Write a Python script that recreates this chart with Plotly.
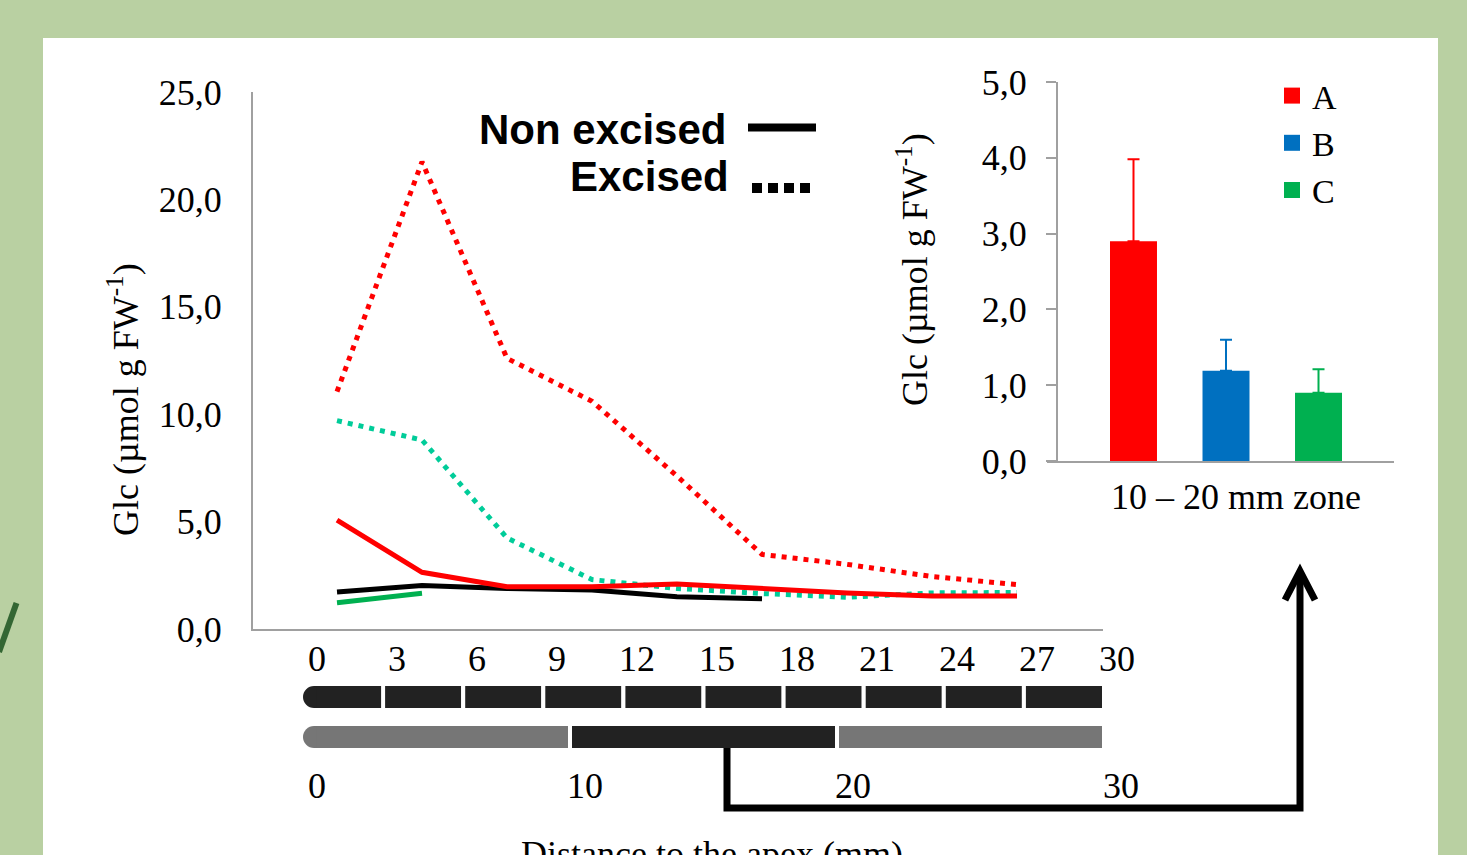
import plotly.graph_objects as go

W, H = 1467, 855


def fx(p):
    return p / W


def fy(p):
    return 1 - p / H


# ---------------- data ----------------
segment_mid_mm = [1.5, 4.5, 7.5, 10.5, 13.5, 16.5, 19.5, 22.5, 25.5]
a_non_excised = [5.07, 2.64, 1.97, 1.97, 2.09, 1.86, 1.68, 1.54, 1.54]
b_non_excised = [1.72, 2.03, 1.89, 1.82, 1.50, 1.41]
c_non_excised = [1.22, 1.66]
a_excised = [11.05, 21.75, 12.6, 10.6, 7.12, 3.47, 3.01, 2.44, 2.07]
b_excised = [9.70, 8.80, 4.24, 2.30, 1.89, 1.65, 1.48, 1.68, 1.70]

zone_labels = ["A", "B", "C"]
zone_means = [2.90, 1.19, 0.90]
zone_err = [1.08, 0.41, 0.31]
zone_colors = ["#ff0000", "#0070c0", "#00b050"]

main_y_ticks = [0, 5, 10, 15, 20, 25]
inset_y_ticks = [0, 1, 2, 3, 4, 5]
dist_ticks = [0, 3, 6, 9, 12, 15, 18, 21, 24, 27, 30]
zone_ticks = [0, 10, 20, 30]

seg_starts = [0, 3, 6, 9, 12, 15, 18, 21, 24, 27]
SEG_LEN = 3
zone_starts = [0, 10, 20]
ZONE_LEN = 10
zone_fill = ["#767676", "#222222", "#767676"]
SEG_BLACK = "#222222"

SERIF = "Liberation Serif"
SANS = "Liberation Sans"
BG_GREEN = "#b9d0a2"
CAP_MM = 1.0      # length of the rounded apex cap (style)
CAP_OVERLAP = 0.5

fig = go.Figure()


def add_line(vals, color, dash):
    fig.add_trace(go.Scatter(
        x=segment_mid_mm[:len(vals)], y=vals, mode="lines",
        line=dict(color=color, width=5, dash=dash),
        showlegend=False, hoverinfo="skip", xaxis="x", yaxis="y"))


add_line(a_excised, "#ff0000", "5px,6px")
add_line(b_excised, "#00cc99", "5px,6px")
add_line(b_non_excised, "#000000", "solid")
add_line(c_non_excised, "#00b050", "solid")
add_line(a_non_excised, "#ff0000", "solid")

# ---------------- inset bars ----------------
for lab, m, e, c in zip(zone_labels, zone_means, zone_err, zone_colors):
    fig.add_trace(go.Bar(
        x=[lab], y=[m], width=0.508, marker=dict(color=c, line=dict(width=0)),
        error_y=dict(type="data", array=[e], arrayminus=[0], symmetric=False,
                     color=c, thickness=2, width=6),
        showlegend=False, hoverinfo="skip", xaxis="x2", yaxis="y2"))
    fig.add_trace(go.Scatter(
        x=[None], y=[None], mode="markers", name=lab,
        marker=dict(symbol="square", size=16, color=c),
        showlegend=True, xaxis="x2", yaxis="y2"))

# ---------------- root segment bars ----------------
WHITE_LINE = dict(color="white", width=4)
NO_LINE = dict(width=0)


def add_first_piece(row, start, length, color):
    # rounded apex cap
    fig.add_trace(go.Bar(
        y=[row], x=[-CAP_MM], base=[start + CAP_MM], orientation="h", width=0.55,
        marker=dict(color=color, line=NO_LINE, cornerradius=11),
        showlegend=False, hoverinfo="skip", xaxis="x5", yaxis="y5"))
    # square remainder of first piece
    fig.add_trace(go.Bar(
        y=[row], x=[length - CAP_OVERLAP], base=[start + CAP_OVERLAP], orientation="h",
        width=0.55, marker=dict(color=color, line=NO_LINE),
        showlegend=False, hoverinfo="skip", xaxis="x5", yaxis="y5"))


add_first_piece(1, seg_starts[0], SEG_LEN, SEG_BLACK)
add_first_piece(0, zone_starts[0], ZONE_LEN, zone_fill[0])

fig.add_trace(go.Bar(
    y=[1] * (len(seg_starts) - 1), x=[SEG_LEN] * (len(seg_starts) - 1), base=seg_starts[1:],
    orientation="h", width=0.65,
    marker=dict(color=SEG_BLACK, line=WHITE_LINE),
    showlegend=False, hoverinfo="skip", xaxis="x5", yaxis="y5"))
fig.add_trace(go.Bar(
    y=[0] * (len(zone_starts) - 1), x=[ZONE_LEN] * (len(zone_starts) - 1), base=zone_starts[1:],
    orientation="h", width=0.65,
    marker=dict(color=zone_fill[1:], line=WHITE_LINE),
    showlegend=False, hoverinfo="skip", xaxis="x5", yaxis="y5"))

# dummy traces so the label axes are drawn
fig.add_trace(go.Scatter(x=[None], y=[None], xaxis="x3", yaxis="y5", showlegend=False))
fig.add_trace(go.Scatter(x=[None], y=[None], xaxis="x4", yaxis="y5", showlegend=False))

AX_GRAY = "#a0a0a0"
tick_font = dict(family=SERIF, size=36, color="black")

fig.update_layout(
    width=W, height=H, autosize=False,
    margin=dict(l=0, r=0, t=0, b=0, pad=0, autoexpand=False),
    paper_bgcolor=BG_GREEN, plot_bgcolor="rgba(0,0,0,0)",
    separators=",.",
    barmode="overlay",
    showlegend=True,
    legend=dict(x=fx(1272), y=fy(67), xanchor="left", yanchor="top",
                font=dict(family=SERIF, size=34, color="black"),
                bgcolor="rgba(0,0,0,0)", itemsizing="trace", tracegroupgap=0),
    # main chart
    xaxis=dict(domain=[fx(253), fx(1103)], range=[-1.465, 28.535], anchor="y",
               showline=True, linecolor=AX_GRAY, linewidth=2, showgrid=False,
               zeroline=False, showticklabels=False, ticks="", automargin=False),
    yaxis=dict(domain=[fy(629), fy(92)], range=[0, 25], anchor="x",
               showline=True, linecolor=AX_GRAY, linewidth=2, showgrid=False,
               zeroline=False, tickvals=main_y_ticks, tickformat=".1f",
               ticks="", ticklabelstandoff=22, tickfont=tick_font, automargin=False),
    # inset
    xaxis2=dict(domain=[fx(1047), fx(1394)], range=[-0.935, 2.816], anchor="y2",
                type="category", showline=True, linecolor=AX_GRAY, linewidth=2,
                showgrid=False, zeroline=False, showticklabels=False, ticks="",
                automargin=False),
    yaxis2=dict(domain=[fy(461), fy(82)], range=[0, 5], anchor="free", position=fx(1057),
                showline=True, linecolor=AX_GRAY, linewidth=2, showgrid=False,
                zeroline=False, tickvals=inset_y_ticks, tickformat=".1f",
                ticks="outside", ticklen=10, tickwidth=2, tickcolor=AX_GRAY,
                ticklabelstandoff=12, tickfont=tick_font, automargin=False),
    # distance labels (0..30 by 3)
    xaxis3=dict(domain=[fx(317), fx(1117)], range=[0, 30], anchor="free", position=fy(634),
                showline=False, showgrid=False, zeroline=False, ticks="",
                tickvals=dist_ticks, tickfont=tick_font, automargin=False),
    # zone labels (0..30 by 10)
    xaxis4=dict(domain=[fx(317), fx(1121)], range=[0, 30], anchor="free", position=fy(761),
                showline=False, showgrid=False, zeroline=False, ticks="",
                tickvals=zone_ticks, tickfont=tick_font, automargin=False),
    # segments
    xaxis5=dict(domain=[fx(303), fx(1104)], range=[0, 30], anchor="y5",
                visible=False),
    yaxis5=dict(domain=[fy(757), fy(677)], range=[-0.5, 1.5], anchor="x5",
                visible=False),
)

ann_font = dict(family=SERIF, size=36, color="black")
common = dict(xref="paper", yref="paper", showarrow=False)
fig.add_annotation(text="Glc (µmol g FW<sup>-1</sup>)", textangle=-90,
                   x=fx(123), y=fy(400), xanchor="center", yanchor="middle",
                   font=ann_font, **common)
fig.add_annotation(text="Glc (µmol g FW<sup>-1</sup>)", textangle=-90,
                   x=fx(912), y=fy(270), xanchor="center", yanchor="middle",
                   font=ann_font, **common)
fig.add_annotation(text="10 – 20 mm zone", x=fx(1236), y=fy(497),
                   xanchor="center", yanchor="middle", font=ann_font, **common)
fig.add_annotation(text="Distance to the apex (mm)", x=fx(712), y=fy(832),
                   xanchor="center", yanchor="top", font=ann_font, **common)
leg_font = dict(family=SANS, size=42, color="black")
fig.add_annotation(text="<b>Non excised</b>", x=fx(728), y=fy(129),
                   xanchor="right", yanchor="middle", font=leg_font, **common)
fig.add_annotation(text="<b>Excised</b>", x=fx(731), y=fy(177),
                   xanchor="right", yanchor="middle", font=leg_font, **common)

shapes = []
# white panel
shapes.append(dict(type="rect", xref="paper", yref="paper", x0=fx(43), x1=fx(1438),
                   y0=fy(855), y1=fy(38), fillcolor="white", line=dict(width=0), layer="below"))
# slide decoration stroke at left
shapes.append(dict(type="line", xref="paper", yref="paper", x0=fx(16.5), y0=fy(603),
                   x1=fx(-1), y1=fy(652), line=dict(color="#336633", width=6), layer="below"))
# legend samples
shapes.append(dict(type="line", xref="paper", yref="paper", x0=fx(748), x1=fx(816),
                   y0=fy(127.5), y1=fy(127.5), line=dict(color="black", width=8)))
shapes.append(dict(type="line", xref="paper", yref="paper", x0=fx(752), x1=fx(810),
                   y0=fy(188), y1=fy(188), line=dict(color="black", width=10, dash="10px,6px")))


def ppath(points):
    return "M " + " L ".join(f"{fx(a):.5f},{fy(b):.5f}" for a, b in points)


shapes.append(dict(type="path", xref="paper", yref="paper",
                   path=ppath([(727, 748), (727, 808), (1300, 808), (1300, 572)]),
                   line=dict(color="black", width=7)))
shapes.append(dict(type="path", xref="paper", yref="paper",
                   path=ppath([(1285, 600), (1300, 571), (1315, 600)]),
                   line=dict(color="black", width=7)))
fig.update_layout(shapes=shapes)

fig.write_html(
    "out.html",
    config={"displayModeBar": False},
    post_script=("document.body.style.margin='0';"
                 "document.body.style.background='" + BG_GREEN + "';"),
)
